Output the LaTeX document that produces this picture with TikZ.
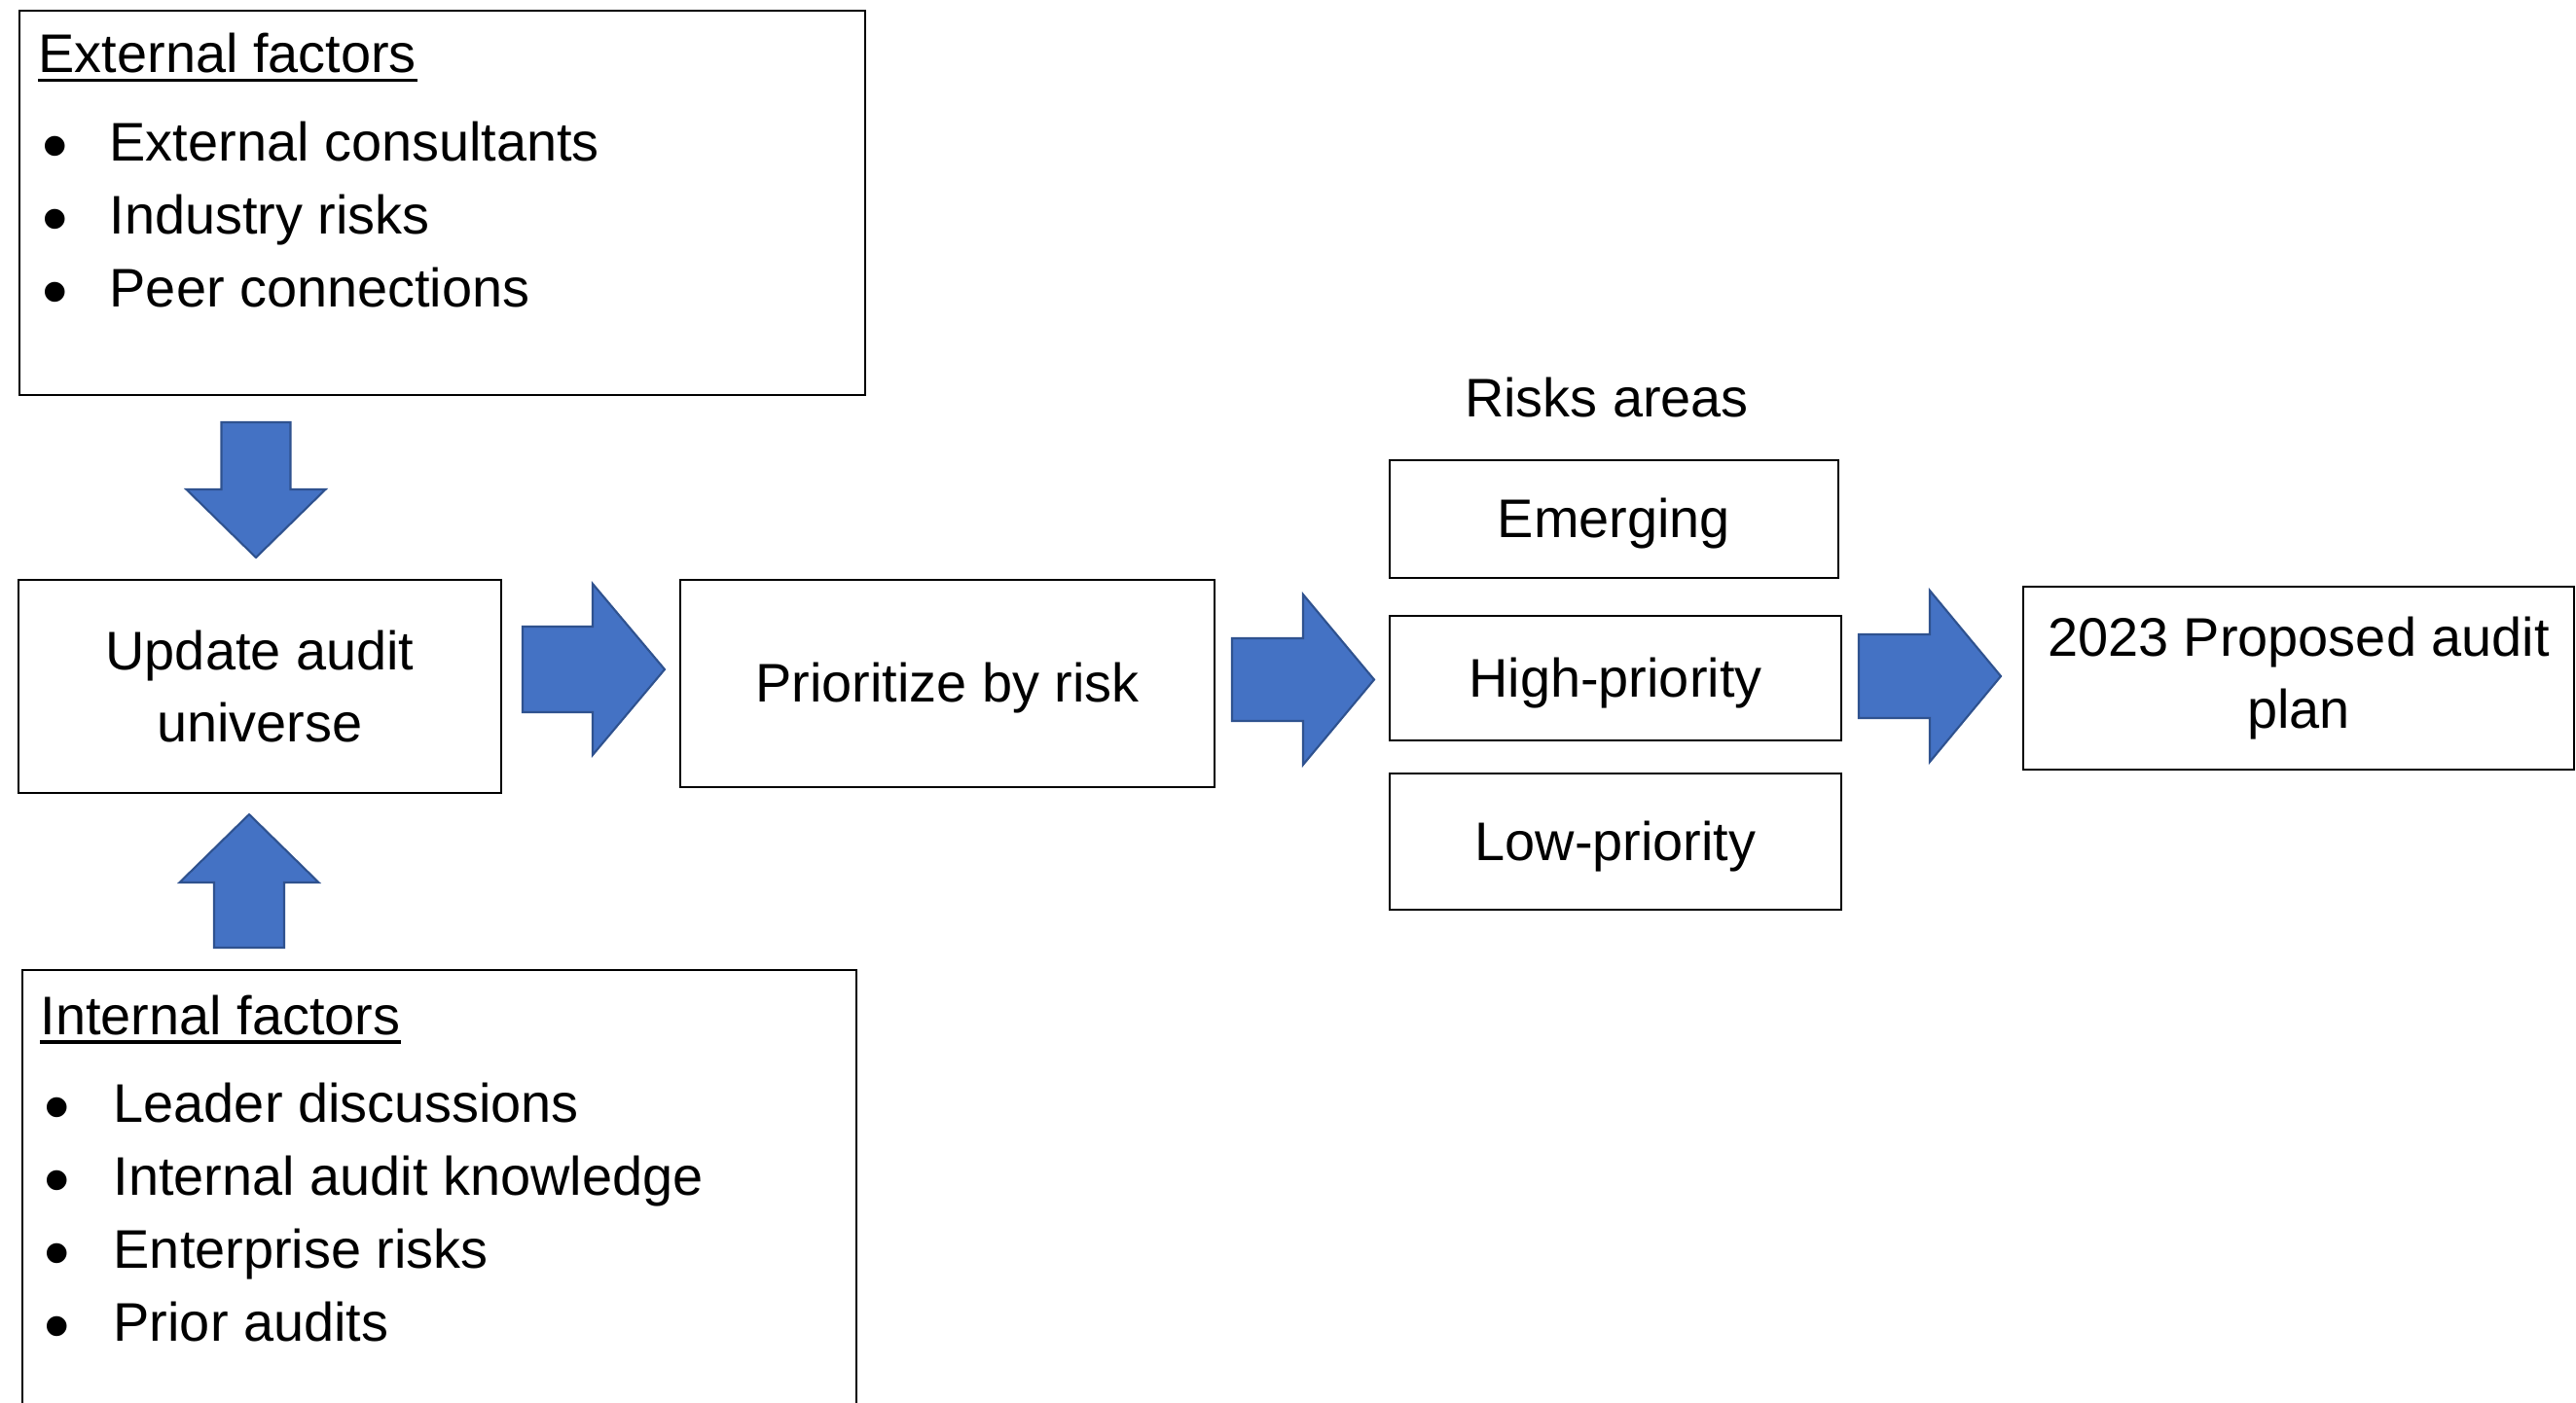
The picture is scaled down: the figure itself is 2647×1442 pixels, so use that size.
\documentclass[tikz,border=0pt]{standalone}
\usepackage{fontspec}
\setmainfont{Liberation Sans}
\usetikzlibrary{calc}
\definecolor{arrowblue}{HTML}{4472C4}
\definecolor{arrowedge}{HTML}{2F528F}
\newcommand{\diagfont}{\fontsize{15.9}{20.8}\selectfont}
\newcommand{\bigbullet}{{\fontsize{21.5}{20}\selectfont\raisebox{-3pt}{•}}}
% tail, tip, half shaft, half head, head length
\newcommand{\blockarrow}[5]{%
  \coordinate (hb) at ($(#2)!#5!(#1)$);
  \draw[blockarrow] ($(#1)!#3!90:(#2)$) -- ($(hb)!#3!90:(#2)$) -- ($(hb)!#4!90:(#2)$)
    -- (#2) -- ($(hb)!#4!-90:(#2)$) -- ($(hb)!#3!-90:(#2)$) -- ($(#1)!#3!-90:(#2)$) -- cycle;
}
\tikzset{
  box/.style={draw, line width=0.6pt, inner sep=0pt, align=center},
  onebox/.style={box, text height=11pt, text depth=0pt},
  txt/.style={inner sep=0pt, anchor=base west},
  blockarrow/.style={fill=arrowblue, draw=arrowedge, line width=0.6pt, line join=miter},
}

\begin{document}
\begin{tikzpicture}[x=0.1mm, y=-0.1mm, font=\diagfont]

\clip (0,0) rectangle (2647,1442);

% factor boxes
\node[box, anchor=north west, minimum width=86.9mm, minimum height=39.5mm] (ext) at (18.6,10) {};
\node[txt] (exttitle) at (39,75) {External factors};
\draw[line width=1pt] ([yshift=-2.2pt]exttitle.base west) -- ([yshift=-2.2pt]exttitle.base east);
\foreach \item [count=\i] in {External consultants, Industry risks, Peer connections} {
  \node[txt] (extbul\i) at (43,90+75*\i) {\bigbullet};
  \node[txt] (extitem\i) at (112,90+75*\i) {\item};
}

\node[box, anchor=north west, minimum width=85.7mm, minimum height=50mm] (int) at (22,996) {};
\node[txt] (inttitle) at (41,1063) {Internal factors};
\draw[line width=1pt] ([yshift=-2.2pt]inttitle.base west) -- ([yshift=-2.2pt]inttitle.base east);
\foreach \item [count=\i] in {Leader discussions, Internal audit knowledge, Enterprise risks, Prior audits} {
  \node[txt] (intbul\i) at (45,1078+75*\i) {\bigbullet};
  \node[txt] (intitem\i) at (116,1078+75*\i) {\item};
}

% main flow
\node[box, minimum width=49.6mm, minimum height=21.9mm] (upd) at (267,705.5) {Update audit\\universe};
\node[onebox, minimum width=54.9mm, minimum height=21.3mm] (pri) at (973.5,702.5) {Prioritize by risk};

\node[txt, anchor=base] (areas) at (1651,428) {Risks areas};
\node[onebox, minimum width=46.1mm, minimum height=12.1mm] (emg) at (1658.5,533.5) {Emerging};
\node[onebox, minimum width=46.4mm, minimum height=12.8mm] (hig) at (1660,697) {High-priority};
\node[onebox, minimum width=46.4mm, minimum height=14mm] (low) at (1660,865) {Low-priority};

\node[box, minimum width=56.6mm, minimum height=18.8mm] (plan) at (2362,697) {2023 Proposed audit\\plan};

% block arrows
\coordinate (dntail) at (263,434);
\coordinate (dntip) at (263,573);
\coordinate (uptail) at (256,974);
\coordinate (uptip) at (256,837);
\coordinate (r1tail) at (537,688);
\coordinate (r1tip) at (683,688);
\coordinate (r2tail) at (1266,698.5);
\coordinate (r2tip) at (1412,698.5);
\coordinate (r3tail) at (1910,695);
\coordinate (r3tip) at (2056,695);

\blockarrow{dntail}{dntip}{3.55mm}{7.15mm}{7mm}
\blockarrow{uptail}{uptip}{3.6mm}{7.15mm}{7mm}
\blockarrow{r1tail}{r1tip}{4.4mm}{8.8mm}{7.4mm}
\blockarrow{r2tail}{r2tip}{4.25mm}{8.75mm}{7.3mm}
\blockarrow{r3tail}{r3tip}{4.3mm}{8.8mm}{7.3mm}

\end{tikzpicture}
\end{document}
